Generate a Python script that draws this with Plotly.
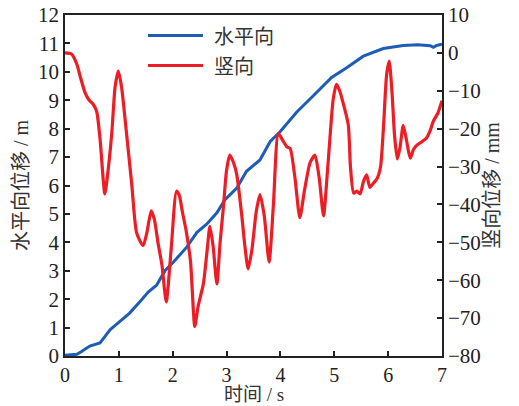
import plotly.graph_objects as go

# Horizontal displacement (m)
t_h = [0, 0.22, 0.3, 0.46, 0.65, 0.84, 1.02, 1.2, 1.39, 1.55, 1.7, 1.86, 2.01, 2.13, 2.26, 2.45,
       2.63, 2.82, 2.97, 3.19, 3.37, 3.62, 3.81, 3.99, 4.3, 4.61, 4.95, 5.23, 5.54, 5.91,
       6.28, 6.55, 6.78, 6.84, 6.9, 7.0]
h_disp = [0.03, 0.06, 0.15, 0.35, 0.46, 0.93, 1.22, 1.51, 1.91, 2.26, 2.49, 3.01, 3.3, 3.55, 3.83, 4.35,
          4.64, 5.04, 5.5, 5.91, 6.5, 6.9, 7.55, 7.88, 8.58, 9.16, 9.8, 10.14, 10.55, 10.82,
          10.93, 10.95, 10.92, 10.86, 10.93, 10.97]

# Vertical displacement (mm)
t_v = [0, 0.12, 0.22, 0.28, 0.37, 0.45, 0.52, 0.59, 0.65, 0.74, 0.8, 0.87, 0.93, 0.99, 1.05,
       1.14, 1.24, 1.33, 1.45, 1.52, 1.6, 1.66, 1.73, 1.8, 1.88, 1.97, 2.07, 2.12, 2.18, 2.25,
       2.33, 2.41, 2.47, 2.57, 2.64, 2.69, 2.75, 2.82, 2.88, 2.94, 3.0, 3.06, 3.13, 3.19, 3.28,
       3.34, 3.4, 3.47, 3.55, 3.62, 3.7, 3.79, 3.87, 3.96, 4.04, 4.12, 4.18, 4.27, 4.36, 4.45,
       4.55, 4.64, 4.72, 4.8, 4.88, 4.98, 5.04, 5.1, 5.16, 5.26, 5.3, 5.36, 5.42, 5.48, 5.54,
       5.6, 5.66, 5.72, 5.8, 5.86, 5.92, 5.97, 6.02, 6.07, 6.12, 6.17, 6.22, 6.28, 6.34, 6.41,
       6.47, 6.53, 6.62, 6.71, 6.78, 6.84, 6.92, 7.0]
v_disp = [0, -0.3, -3.0, -6.1, -10.4, -12.5, -13.5, -15.6, -22.6, -37.2, -31, -20.9, -9, -4.8, -9,
          -20.9, -34.8, -47.5, -50.9, -47.5, -41.7, -44, -50.4, -56, -65.7, -52, -36.5, -37.5, -42, -47,
          -55, -72.2, -67, -60.9, -52, -45.8, -51, -61, -50, -40.9, -31, -27, -29, -32.2, -42.6,
          -51, -57, -52, -42, -37.4, -43, -55.2, -40, -21.3, -23, -24.8, -25.2, -33, -43.5, -36,
          -29, -27, -33, -43, -30, -12.2, -8.3, -10, -13, -19, -30, -37, -36.5, -37.2, -34,
          -32.2, -35.5, -34.5, -33, -30, -18, -6, -2.2, -10, -22, -28, -25, -19.1, -23, -27.8,
          -25.5, -24.4, -23.5, -22.5, -20.5, -18, -16, -12.6]

legend_names = ["水平向", "竖向"]
blue = "#1d5db6"
red = "#ee1c25"

num_font = dict(family="Liberation Serif", size=21, color="#222")
xnum_font = dict(family="Liberation Serif", size=20, color="#222")
title_font = dict(family="Liberation Serif, Noto Sans CJK SC", size=20, color="#333")

fig = go.Figure()
fig.add_trace(go.Scatter(x=t_h, y=h_disp, mode="lines", name=legend_names[0],
                         line=dict(color=blue, width=3), yaxis="y"))
fig.add_trace(go.Scatter(x=t_v, y=v_disp, mode="lines", name=legend_names[1],
                         line=dict(color=red, width=3.2, shape="spline", smoothing=0.6), yaxis="y2"))

# legend drawn manually (long line samples)
for i, (name, col) in enumerate(zip(legend_names, [blue, red])):
    yy = 0.94 - i * 0.088
    fig.add_shape(type="line", xref="paper", yref="paper", x0=0.22, x1=0.366, y0=yy, y1=yy,
                  line=dict(color=col, width=3))
    fig.add_annotation(xref="paper", yref="paper", x=0.39, y=yy, text=name, showarrow=False,
                       xanchor="left", yanchor="middle",
                       font=dict(family="Noto Sans CJK SC", size=20, color="#333"))

# x-axis title as annotation for exact placement
fig.add_annotation(xref="paper", yref="paper", x=0.5, y=-0.112, text="时间 / s", showarrow=False,
                   xanchor="center", yanchor="middle", borderpad=0,
                   font=dict(family="Liberation Serif, Noto Sans CJK SC", size=19, color="#333"))

axis_common = dict(showgrid=False, zeroline=False, showline=True, linecolor="#222", linewidth=1.5,
                   ticks="inside", ticklen=5, tickwidth=1.5, tickcolor="#222",
                   automargin=False)

fig.update_layout(
    width=519, height=406,
    margin=dict(l=65, r=77, t=15, b=50),
    paper_bgcolor="white", plot_bgcolor="white",
    showlegend=False,
    xaxis=dict(range=[0, 7], dtick=1, mirror=True, tickfont=xnum_font, **axis_common),
    yaxis=dict(range=[0, 12], dtick=1, tickfont=num_font,
               title=dict(text="水平向位移 / m", font=title_font, standoff=4), **axis_common),
    yaxis2=dict(range=[-80, 10], dtick=10, overlaying="y", side="right", tickfont=num_font,
                title=dict(text="竖向位移 / mm", font=title_font, standoff=4), **axis_common),
)

fig.write_html("out.html")
